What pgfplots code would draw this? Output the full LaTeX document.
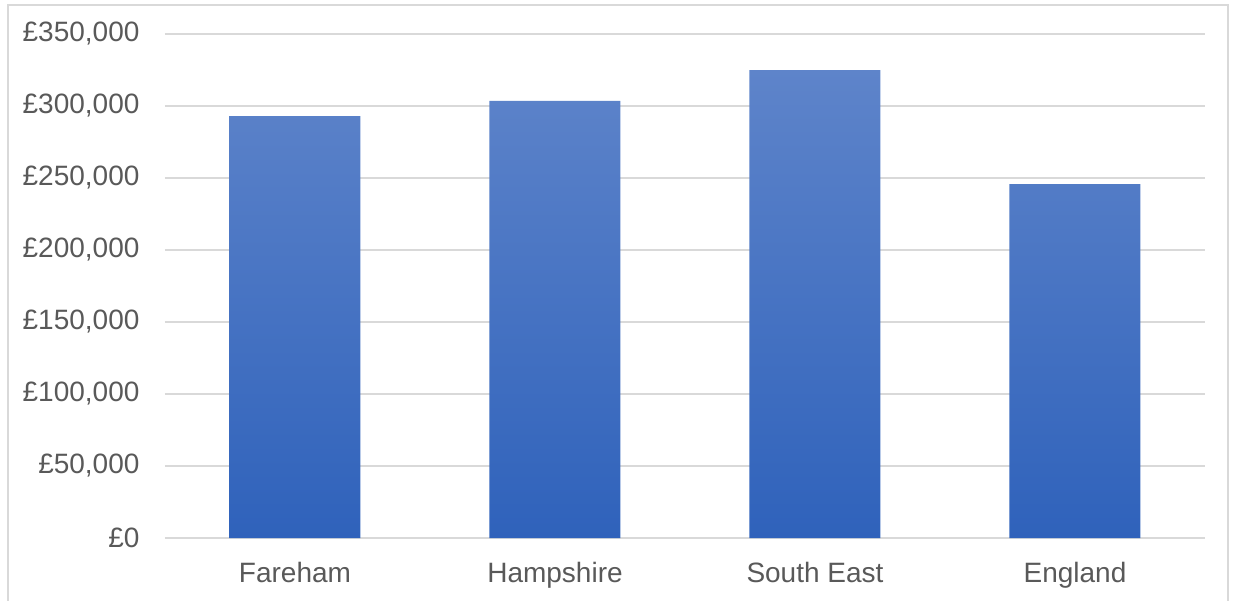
\documentclass[border=0pt]{standalone}
\usepackage{fontspec}
\setmainfont{Liberation Sans}
\usepackage{pgfplots}
\pgfplotsset{compat=1.18}
\definecolor{tickgray}{HTML}{595959}
\definecolor{gridgray}{HTML}{D9D9D9}
\definecolor{framegray}{HTML}{D9D9D9}
\definecolor{bartop}{HTML}{5E84CA}
\definecolor{barbot}{HTML}{2F62BB}
\begin{document}
\begin{tikzpicture}
\useasboundingbox (-165pt,-62pt) rectangle (1068pt,538pt);
\draw[framegray, line width=1.2pt] (-157pt,-80pt) -- (-157pt,533pt) -- (1063pt,533pt) -- (1063pt,-80pt);
\begin{axis}[
  at={(0pt,0pt)}, anchor=south west,
  scale only axis, width=1040pt, height=504pt,
  xmin=-0.5, xmax=3.5, ymin=0, ymax=350000,
  axis line style={draw=none},
  major tick length=0pt,
  ymajorgrids, grid style={gridgray, line width=1.5pt},
  ytick={0,50000,...,350000},
  scaled y ticks=false,
  xtick={0,1,2,3},
  xticklabels={Fareham,Hampshire,South East,England},
  yticklabel={£\pgfmathprintnumber[fixed,precision=0,1000 sep={,}]{\tick}},
  /pgf/number format/assume math mode=true,
  tick label style={font=\fontsize{28}{32}\selectfont, text=tickgray},
  yticklabel style={xshift=-22pt},
  xticklabel style={yshift=-21pt},
]
\addplot[ybar, bar width=131pt, draw=none, top color=bartop, bottom color=barbot]
  coordinates {(0,293000) (1,303500) (2,325000) (3,245800)};
\end{axis}
\end{tikzpicture}
\end{document}
